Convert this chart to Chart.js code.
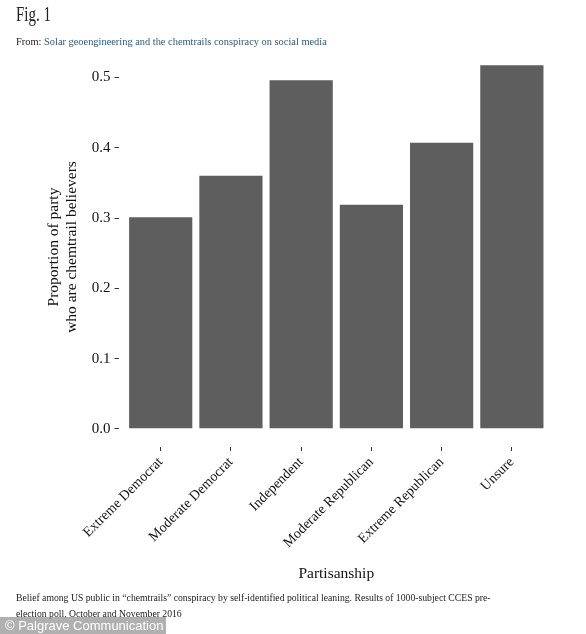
<!DOCTYPE html>
<html>
<head>
<meta charset="utf-8">
<script src="https://cdn.jsdelivr.net/npm/chart.js@4/dist/chart.umd.min.js"></script>
<style>
  html, body { margin: 0; padding: 0; background: #fff; }
  body { width: 586px; height: 634px; position: relative; overflow: hidden; }
  #wrap { position: absolute; left: 0; top: 0; width: 586px; height: 634px; }
  .txt { position: absolute; font-family: "Liberation Serif", serif; white-space: nowrap; }
  #fig { left: 16px; top: 3px; font-size: 20px; color: #222; transform: scaleX(0.75); transform-origin: left top; }
  #from { left: 16px; top: 36px; font-size: 10.4px; color: #222; }
  #from span { color: #2e5a78; }
  #cap { left: 16px; top: 590px; font-size: 9.7px; color: #222; line-height: 16px; }
  #wm { position: absolute; left: 0; top: 617px; width: 166px; height: 17px; background: rgba(150,150,150,0.75);
        font-family: "Liberation Sans", Arial, sans-serif; font-size: 13px; color: #fff; line-height: 17px; padding-left: 5px; box-sizing: border-box; white-space: nowrap; }
</style>
</head>
<body>
<div id="wrap"><canvas id="c" width="586" height="634"></canvas></div>
<div class="txt" id="fig">Fig. 1</div>
<div class="txt" id="from">From: <span>Solar geoengineering and the chemtrails conspiracy on social media</span></div>
<div class="txt" id="cap">Belief among US public in “chemtrails” conspiracy by self-identified political leaning. Results of 1000-subject CCES pre-<br>election poll, October and November 2016</div>
<div id="wm">© Palgrave Communication</div>
<script>
const categories = ["Extreme Democrat", "Moderate Democrat", "Independent", "Moderate Republican", "Extreme Republican", "Unsure"];
const proportions = [0.301, 0.360, 0.496, 0.319, 0.407, 0.5175];
const yTickValues = [0, 0.1, 0.2, 0.3, 0.4, 0.5];
const yTickLabels = ["0.0", "0.1", "0.2", "0.3", "0.4", "0.5"];
const xTitle = "Partisanship";
const yTitle = ["Proportion of party", "who are chemtrail believers"];

const yMaxData = Math.max(...proportions);
const yExpand = yMaxData * 0.05;
const serif = "'Liberation Serif', 'Times New Roman', serif";

new Chart(document.getElementById('c'), {
  type: 'bar',
  data: {
    datasets: [{
      data: proportions.map((v, i) => ({ x: i, y: v })),
      backgroundColor: '#5e5e5e',
      borderWidth: 0,
      categoryPercentage: 1,
      barPercentage: 0.9
    }]
  },
  options: {
    responsive: false,
    animation: false,
    devicePixelRatio: 1,
    layout: { padding: { left: 40, right: 32, top: 47, bottom: 51 } },
    plugins: { legend: { display: false }, tooltip: { enabled: false } },
    scales: {
      x: {
        type: 'linear',
        offset: false,
        min: -0.6,
        max: categories.length - 1 + 0.6,
        afterBuildTicks: (s) => { s.ticks = categories.map((c, i) => ({ value: i })); },
        grid: { display: true, offset: false, drawOnChartArea: false, drawTicks: true, tickLength: 4, color: '#333', lineWidth: 1 },
        border: { display: false },
        ticks: {
          autoSkip: false, maxRotation: 45, minRotation: 45, padding: 3,
          color: '#111', font: { family: serif, size: 14 },
          callback: (v, i) => categories[i]
        },
        title: { display: true, text: xTitle, color: '#111', font: { family: serif, size: 15.5 }, padding: { top: 10, bottom: 0 } }
      },
      y: {
        min: -yExpand,
        max: yMaxData + yExpand,
        afterBuildTicks: (s) => { s.ticks = yTickValues.map(v => ({ value: v })); },
        grid: { display: true, drawOnChartArea: false, drawTicks: true, tickLength: 4, color: '#333', lineWidth: 1 },
        border: { display: false },
        ticks: {
          padding: 4, color: '#111', font: { family: serif, size: 15 },
          callback: (v, i) => yTickLabels[i]
        },
        title: { display: true, text: yTitle, color: '#111', font: { family: serif, size: 15.5, lineHeight: 1.22 }, padding: { top: 4, bottom: 6 } }
      }
    }
  }
});
</script>
</body>
</html>
